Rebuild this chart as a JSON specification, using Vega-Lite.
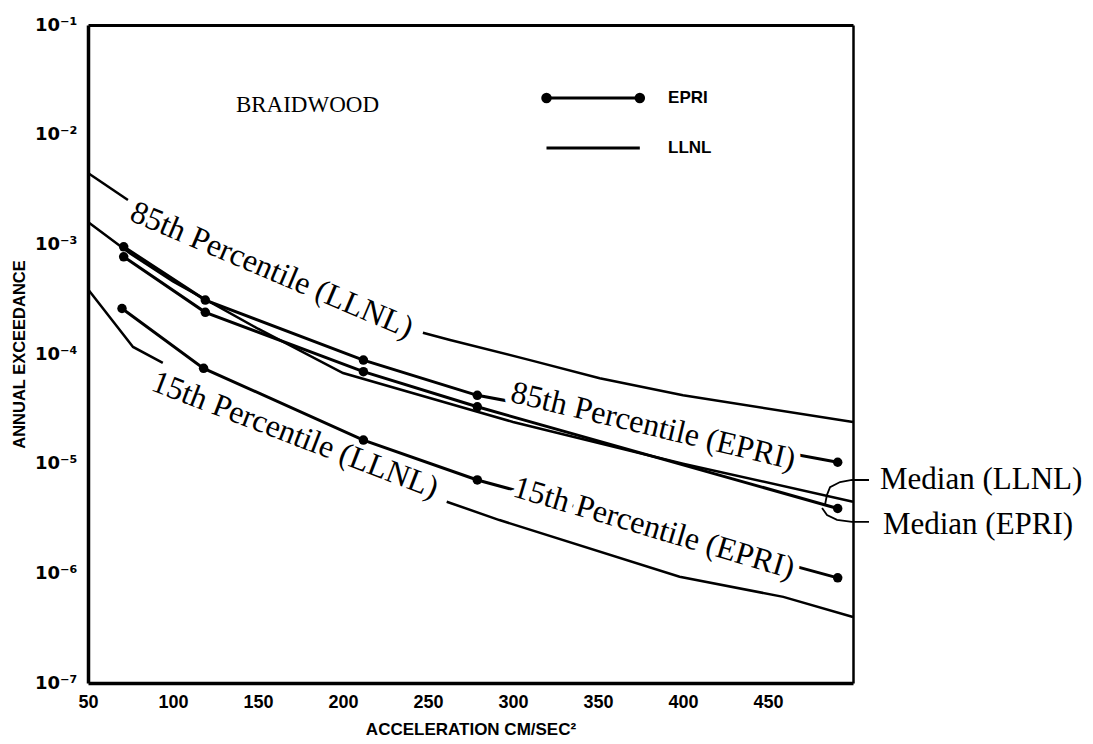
{
  "$schema": "https://vega.github.io/schema/vega-lite/v6.json",
  "width": 765,
  "height": 658,
  "autosize": {"type": "none"},
  "padding": {"left": 88, "top": 25, "right": 240, "bottom": 61},
  "background": "white",
  "config": {
    "view": {"stroke": null},
    "axis": {"domainColor": "black", "tickColor": "black", "labelColor": "black", "titleColor": "black", "grid": false},
    "tick": {"bandSize": 12}
  },
  "datasets": {
    "curves": [
      {"source": "LLNL", "series": "85th", "part": 1, "accel": 50, "exceedance": 0.00447},
      {"source": "LLNL", "series": "85th", "part": 1, "accel": 73.5, "exceedance": 0.00254},
      {"source": "LLNL", "series": "85th", "part": 2, "accel": 247, "exceedance": 0.000156},
      {"source": "LLNL", "series": "85th", "part": 2, "accel": 263, "exceedance": 0.000134},
      {"source": "LLNL", "series": "85th", "part": 2, "accel": 310, "exceedance": 0.000088},
      {"source": "LLNL", "series": "85th", "part": 2, "accel": 351, "exceedance": 0.00006},
      {"source": "LLNL", "series": "85th", "part": 2, "accel": 400, "exceedance": 0.000042},
      {"source": "LLNL", "series": "85th", "part": 2, "accel": 500, "exceedance": 0.000024},
      {"source": "LLNL", "series": "median", "part": 1, "accel": 50, "exceedance": 0.0016},
      {"source": "LLNL", "series": "median", "part": 1, "accel": 75, "exceedance": 0.00082},
      {"source": "LLNL", "series": "median", "part": 1, "accel": 100, "exceedance": 0.00046},
      {"source": "LLNL", "series": "median", "part": 1, "accel": 150, "exceedance": 0.00017},
      {"source": "LLNL", "series": "median", "part": 1, "accel": 200, "exceedance": 0.000067},
      {"source": "LLNL", "series": "median", "part": 1, "accel": 300, "exceedance": 0.000024},
      {"source": "LLNL", "series": "median", "part": 1, "accel": 400, "exceedance": 0.00001},
      {"source": "LLNL", "series": "median", "part": 1, "accel": 500, "exceedance": 0.0000045},
      {"source": "LLNL", "series": "15th", "part": 1, "accel": 50, "exceedance": 0.00039},
      {"source": "LLNL", "series": "15th", "part": 1, "accel": 76.5, "exceedance": 0.000116},
      {"source": "LLNL", "series": "15th", "part": 1, "accel": 94, "exceedance": 0.000083},
      {"source": "LLNL", "series": "15th", "part": 2, "accel": 261, "exceedance": 0.0000045},
      {"source": "LLNL", "series": "15th", "part": 2, "accel": 292, "exceedance": 0.00000306},
      {"source": "LLNL", "series": "15th", "part": 2, "accel": 398, "exceedance": 0.00000093},
      {"source": "LLNL", "series": "15th", "part": 2, "accel": 459, "exceedance": 0.00000061},
      {"source": "LLNL", "series": "15th", "part": 2, "accel": 500, "exceedance": 0.0000004},
      {"source": "EPRI", "series": "85th", "part": 1, "accel": 71, "exceedance": 0.00095},
      {"source": "EPRI", "series": "85th", "part": 1, "accel": 119, "exceedance": 0.00031},
      {"source": "EPRI", "series": "85th", "part": 1, "accel": 212, "exceedance": 0.000088},
      {"source": "EPRI", "series": "85th", "part": 1, "accel": 279, "exceedance": 0.000042},
      {"source": "EPRI", "series": "85th", "part": 1, "accel": 491, "exceedance": 0.0000103},
      {"source": "EPRI", "series": "median", "part": 1, "accel": 71, "exceedance": 0.00077},
      {"source": "EPRI", "series": "median", "part": 1, "accel": 119, "exceedance": 0.00024},
      {"source": "EPRI", "series": "median", "part": 1, "accel": 212, "exceedance": 0.000069},
      {"source": "EPRI", "series": "median", "part": 1, "accel": 279, "exceedance": 0.000033},
      {"source": "EPRI", "series": "median", "part": 1, "accel": 491, "exceedance": 0.0000039},
      {"source": "EPRI", "series": "15th", "part": 1, "accel": 70, "exceedance": 0.00026},
      {"source": "EPRI", "series": "15th", "part": 1, "accel": 118, "exceedance": 0.000074},
      {"source": "EPRI", "series": "15th", "part": 1, "accel": 212, "exceedance": 0.0000164},
      {"source": "EPRI", "series": "15th", "part": 1, "accel": 279, "exceedance": 0.0000071},
      {"source": "EPRI", "series": "15th", "part": 1, "accel": 491, "exceedance": 0.00000091}
    ],
    "brackets": [
      {"target": "LLNL", "accel": 509.4, "exceedance": 0.0000071},
      {"target": "LLNL", "accel": 499.4, "exceedance": 0.0000071},
      {"target": "LLNL", "accel": 492.4, "exceedance": 0.0000068},
      {"target": "LLNL", "accel": 486.5, "exceedance": 0.0000061},
      {"target": "LLNL", "accel": 484.7, "exceedance": 0.0000052},
      {"target": "LLNL", "accel": 483.5, "exceedance": 0.0000042},
      {"target": "EPRI", "accel": 509.4, "exceedance": 0.00000294},
      {"target": "EPRI", "accel": 499.4, "exceedance": 0.00000294},
      {"target": "EPRI", "accel": 490.6, "exceedance": 0.00000307},
      {"target": "EPRI", "accel": 484.7, "exceedance": 0.0000034},
      {"target": "EPRI", "accel": 481.8, "exceedance": 0.00000394}
    ],
    "legend": [
      {"source": "EPRI", "accel": 319.7, "exceedance": 0.0216},
      {"source": "EPRI", "accel": 374.6, "exceedance": 0.0216},
      {"source": "LLNL", "accel": 319.7, "exceedance": 0.00757},
      {"source": "LLNL", "accel": 374.6, "exceedance": 0.00757}
    ],
    "legendText": [
      {"label": "EPRI", "accel": 391.2, "exceedance": 0.0216},
      {"label": "LLNL", "accel": 391.2, "exceedance": 0.00757}
    ],
    "labels": [
      {"label": "85th Percentile (LLNL)", "accel": 158.2, "exceedance": 0.000583},
      {"label": "15th Percentile (LLNL)", "accel": 171.8, "exceedance": 0.0000183},
      {"label": "85th Percentile (EPRI)", "accel": 382.5, "exceedance": 0.0000221},
      {"label": "15th Percentile (EPRI)", "accel": 383, "exceedance": 0.0000026},
      {"label": "Median (LLNL)", "accel": 515.9, "exceedance": 0.0000071},
      {"label": "Median (EPRI)", "accel": 517.6, "exceedance": 0.00000276},
      {"label": "BRAIDWOOD", "accel": 179.1, "exceedance": 0.0188}
    ],
    "yticks": [
      {"kind": "major", "value": 0.0000001}, {"kind": "major", "value": 0.000001}, {"kind": "major", "value": 0.00001},
      {"kind": "major", "value": 0.0001}, {"kind": "major", "value": 0.001}, {"kind": "major", "value": 0.01}, {"kind": "major", "value": 0.1},
      {"kind": "minor", "value": 0.0000002}, {"kind": "minor", "value": 0.0000003}, {"kind": "minor", "value": 0.0000004}, {"kind": "minor", "value": 0.0000005},
      {"kind": "minor", "value": 0.0000006}, {"kind": "minor", "value": 0.0000007}, {"kind": "minor", "value": 0.0000008}, {"kind": "minor", "value": 0.0000009},
      {"kind": "minor", "value": 0.000002}, {"kind": "minor", "value": 0.000003}, {"kind": "minor", "value": 0.000004}, {"kind": "minor", "value": 0.000005},
      {"kind": "minor", "value": 0.000006}, {"kind": "minor", "value": 0.000007}, {"kind": "minor", "value": 0.000008}, {"kind": "minor", "value": 0.000009},
      {"kind": "minor", "value": 0.00002}, {"kind": "minor", "value": 0.00003}, {"kind": "minor", "value": 0.00004}, {"kind": "minor", "value": 0.00005},
      {"kind": "minor", "value": 0.00006}, {"kind": "minor", "value": 0.00007}, {"kind": "minor", "value": 0.00008}, {"kind": "minor", "value": 0.00009},
      {"kind": "minor", "value": 0.0002}, {"kind": "minor", "value": 0.0003}, {"kind": "minor", "value": 0.0004}, {"kind": "minor", "value": 0.0005},
      {"kind": "minor", "value": 0.0006}, {"kind": "minor", "value": 0.0007}, {"kind": "minor", "value": 0.0008}, {"kind": "minor", "value": 0.0009},
      {"kind": "minor", "value": 0.002}, {"kind": "minor", "value": 0.003}, {"kind": "minor", "value": 0.004}, {"kind": "minor", "value": 0.005},
      {"kind": "minor", "value": 0.006}, {"kind": "minor", "value": 0.007}, {"kind": "minor", "value": 0.008}, {"kind": "minor", "value": 0.009},
      {"kind": "minor", "value": 0.02}, {"kind": "minor", "value": 0.03}, {"kind": "minor", "value": 0.04}, {"kind": "minor", "value": 0.05},
      {"kind": "minor", "value": 0.06}, {"kind": "minor", "value": 0.07}, {"kind": "minor", "value": 0.08}, {"kind": "minor", "value": 0.09}
    ],
    "xticks": [
      {"value": 100}, {"value": 150}, {"value": 200}, {"value": 250}, {"value": 300}, {"value": 350}, {"value": 400}, {"value": 450}
    ]
  },
  "encoding": {
    "x": {"field": "accel", "type": "quantitative", "scale": {"domain": [50, 500], "nice": false, "zero": false}, "axis": null},
    "y": {"field": "exceedance", "type": "quantitative", "scale": {"type": "log", "domain": [0.0000001, 0.1], "nice": false}, "axis": null}
  },
  "layer": [
    {
      "data": {"name": "curves"},
      "transform": [{"filter": "datum.source === 'LLNL'"}],
      "mark": {"type": "line", "color": "black", "strokeWidth": 2.5},
      "encoding": {
        "x": {"field": "accel", "type": "quantitative", "scale": {"domain": [50, 500], "nice": false, "zero": false},
          "axis": {"orient": "bottom", "title": "ACCELERATION CM/SEC²", "values": [50, 100, 150, 200, 250, 300, 350, 400, 450],
            "domain": true, "domainWidth": 3.5, "ticks": false,
            "labelFont": "Liberation Sans", "labelFontWeight": "bold", "labelFontSize": 18, "labelPadding": 10, "labelFlush": false,
            "titleFont": "Liberation Sans", "titleFontWeight": "bold", "titleFontSize": 17, "titlePadding": 10}},
        "y": {"field": "exceedance", "type": "quantitative", "scale": {"type": "log", "domain": [0.0000001, 0.1], "nice": false},
          "axis": {"orient": "left", "title": "ANNUAL EXCEEDANCE",
            "values": [0.0000001, 0.000001, 0.00001, 0.0001, 0.001, 0.01, 0.1],
            "labelExpr": "'10⁻' + ['⁰','¹','²','³','⁴','⁵','⁶','⁷'][-round(log(datum.value)/LN10)]",
            "domain": true, "domainWidth": 3.5, "ticks": false,
            "labelFont": "DejaVu Sans", "labelFontWeight": "bold", "labelFontSize": 18, "labelPadding": 11,
            "titleFont": "Liberation Sans", "titleFontWeight": "bold", "titleFontSize": 16.5, "titlePadding": 7}},
        "detail": [{"field": "series"}, {"field": "part"}]
      }
    },
    {
      "data": {"name": "curves"},
      "transform": [{"filter": "datum.source === 'EPRI'"}],
      "mark": {"type": "line", "color": "black", "strokeWidth": 3},
      "encoding": {
        "x": {"field": "accel", "type": "quantitative", "scale": {"domain": [50, 500], "nice": false, "zero": false},
          "axis": {"orient": "top", "title": null, "labels": false, "ticks": false, "domain": true, "domainWidth": 3}},
        "y": {"field": "exceedance", "type": "quantitative", "scale": {"type": "log", "domain": [0.0000001, 0.1], "nice": false},
          "axis": {"orient": "right", "title": null, "labels": false, "ticks": false, "domain": true, "domainWidth": 2.5}},
        "detail": {"field": "series"}
      }
    },
    {
      "data": {"name": "yticks"},
      "transform": [{"filter": "datum.kind === 'major'"}],
      "mark": {"type": "tick", "orient": "horizontal", "color": "black", "opacity": 1, "size": 13, "thickness": 2.5, "xOffset": 6.5},
      "encoding": {
        "x": {"datum": 50, "type": "quantitative", "axis": null},
        "y": {"field": "value", "type": "quantitative", "axis": null}
      }
    },
    {
      "data": {"name": "yticks"},
      "transform": [{"filter": "datum.kind === 'minor'"}],
      "mark": {"type": "tick", "orient": "horizontal", "color": "black", "opacity": 1, "size": 7, "thickness": 2.5, "xOffset": 3.5},
      "encoding": {
        "x": {"datum": 50, "type": "quantitative", "axis": null},
        "y": {"field": "value", "type": "quantitative", "axis": null}
      }
    },
    {
      "data": {"name": "yticks"},
      "transform": [{"filter": "datum.kind === 'major'"}],
      "mark": {"type": "tick", "orient": "horizontal", "color": "black", "opacity": 1, "size": 13, "thickness": 2.5, "xOffset": -6.5},
      "encoding": {
        "x": {"datum": 500, "type": "quantitative", "axis": null},
        "y": {"field": "value", "type": "quantitative", "axis": null}
      }
    },
    {
      "data": {"name": "yticks"},
      "transform": [{"filter": "datum.kind === 'minor'"}],
      "mark": {"type": "tick", "orient": "horizontal", "color": "black", "opacity": 1, "size": 7, "thickness": 2, "xOffset": -3.5},
      "encoding": {
        "x": {"datum": 500, "type": "quantitative", "axis": null},
        "y": {"field": "value", "type": "quantitative", "axis": null}
      }
    },
    {
      "data": {"name": "xticks"},
      "mark": {"type": "tick", "orient": "vertical", "color": "black", "opacity": 1, "size": 7, "thickness": 1.8, "yOffset": -3.5},
      "encoding": {
        "x": {"field": "value", "type": "quantitative", "axis": null},
        "y": {"datum": 0.0000001, "type": "quantitative", "axis": null}
      }
    },
    {
      "data": {"name": "xticks"},
      "mark": {"type": "tick", "orient": "vertical", "color": "black", "opacity": 1, "size": 6, "thickness": 1.8, "yOffset": 3},
      "encoding": {
        "x": {"field": "value", "type": "quantitative", "axis": null},
        "y": {"datum": 0.1, "type": "quantitative", "axis": null}
      }
    },
    {
      "data": {"name": "labels"},
      "transform": [{"filter": "datum.label === '85th Percentile (EPRI)'"}],
      "mark": {"type": "text", "font": "Liberation Serif", "fontSize": 32, "angle": 13.5, "align": "center", "baseline": "middle", "fill": "white", "stroke": "white", "strokeWidth": 13, "strokeJoin": "round"},
      "encoding": {"text": {"field": "label"}}
    },
    {
      "data": {"name": "labels"},
      "transform": [{"filter": "datum.label === '15th Percentile (EPRI)'"}],
      "mark": {"type": "text", "font": "Liberation Serif", "fontSize": 32, "angle": 16.5, "align": "center", "baseline": "middle", "fill": "white", "stroke": "white", "strokeWidth": 13, "strokeJoin": "round"},
      "encoding": {"text": {"field": "label"}}
    },
    {
      "data": {"name": "labels"},
      "transform": [{"filter": "datum.label === '85th Percentile (EPRI)'"}],
      "mark": {"type": "text", "font": "Liberation Serif", "fontSize": 32, "angle": 13.5, "align": "center", "baseline": "middle", "color": "black"},
      "encoding": {"text": {"field": "label"}}
    },
    {
      "data": {"name": "labels"},
      "transform": [{"filter": "datum.label === '15th Percentile (EPRI)'"}],
      "mark": {"type": "text", "font": "Liberation Serif", "fontSize": 32, "angle": 16.5, "align": "center", "baseline": "middle", "color": "black"},
      "encoding": {"text": {"field": "label"}}
    },
    {
      "data": {"name": "labels"},
      "transform": [{"filter": "datum.label === '85th Percentile (LLNL)'"}],
      "mark": {"type": "text", "font": "Liberation Serif", "fontSize": 32, "angle": 23, "align": "center", "baseline": "middle", "color": "black"},
      "encoding": {"text": {"field": "label"}}
    },
    {
      "data": {"name": "labels"},
      "transform": [{"filter": "datum.label === '15th Percentile (LLNL)'"}],
      "mark": {"type": "text", "font": "Liberation Serif", "fontSize": 32, "angle": 21, "align": "center", "baseline": "middle", "color": "black"},
      "encoding": {"text": {"field": "label"}}
    },
    {
      "data": {"name": "labels"},
      "transform": [{"filter": "indexof(datum.label, 'Median') === 0"}],
      "mark": {"type": "text", "font": "Liberation Serif", "fontSize": 31, "align": "left", "baseline": "middle", "color": "black"},
      "encoding": {"text": {"field": "label"}}
    },
    {
      "data": {"name": "labels"},
      "transform": [{"filter": "datum.label === 'BRAIDWOOD'"}],
      "mark": {"type": "text", "font": "Liberation Serif", "fontSize": 23, "align": "center", "baseline": "middle", "color": "black"},
      "encoding": {"text": {"field": "label"}}
    },
    {
      "data": {"name": "curves"},
      "transform": [{"filter": "datum.source === 'EPRI'"}],
      "mark": {"type": "circle", "color": "black", "opacity": 1, "size": 90}
    },
    {
      "data": {"name": "brackets"},
      "mark": {"type": "line", "color": "black", "strokeWidth": 1.8},
      "encoding": {"detail": {"field": "target"}}
    },
    {
      "data": {"name": "legend"},
      "mark": {"type": "line", "color": "black", "strokeWidth": 3},
      "encoding": {"detail": {"field": "source"}}
    },
    {
      "data": {"name": "legend"},
      "transform": [{"filter": "datum.source === 'EPRI'"}],
      "mark": {"type": "circle", "color": "black", "opacity": 1, "size": 110}
    },
    {
      "data": {"name": "legendText"},
      "mark": {"type": "text", "font": "Liberation Sans", "fontWeight": "bold", "fontSize": 17, "align": "left", "baseline": "middle", "color": "black"},
      "encoding": {"text": {"field": "label"}}
    }
  ],
  "resolve": {"axis": {"x": "independent", "y": "independent"}}
}
